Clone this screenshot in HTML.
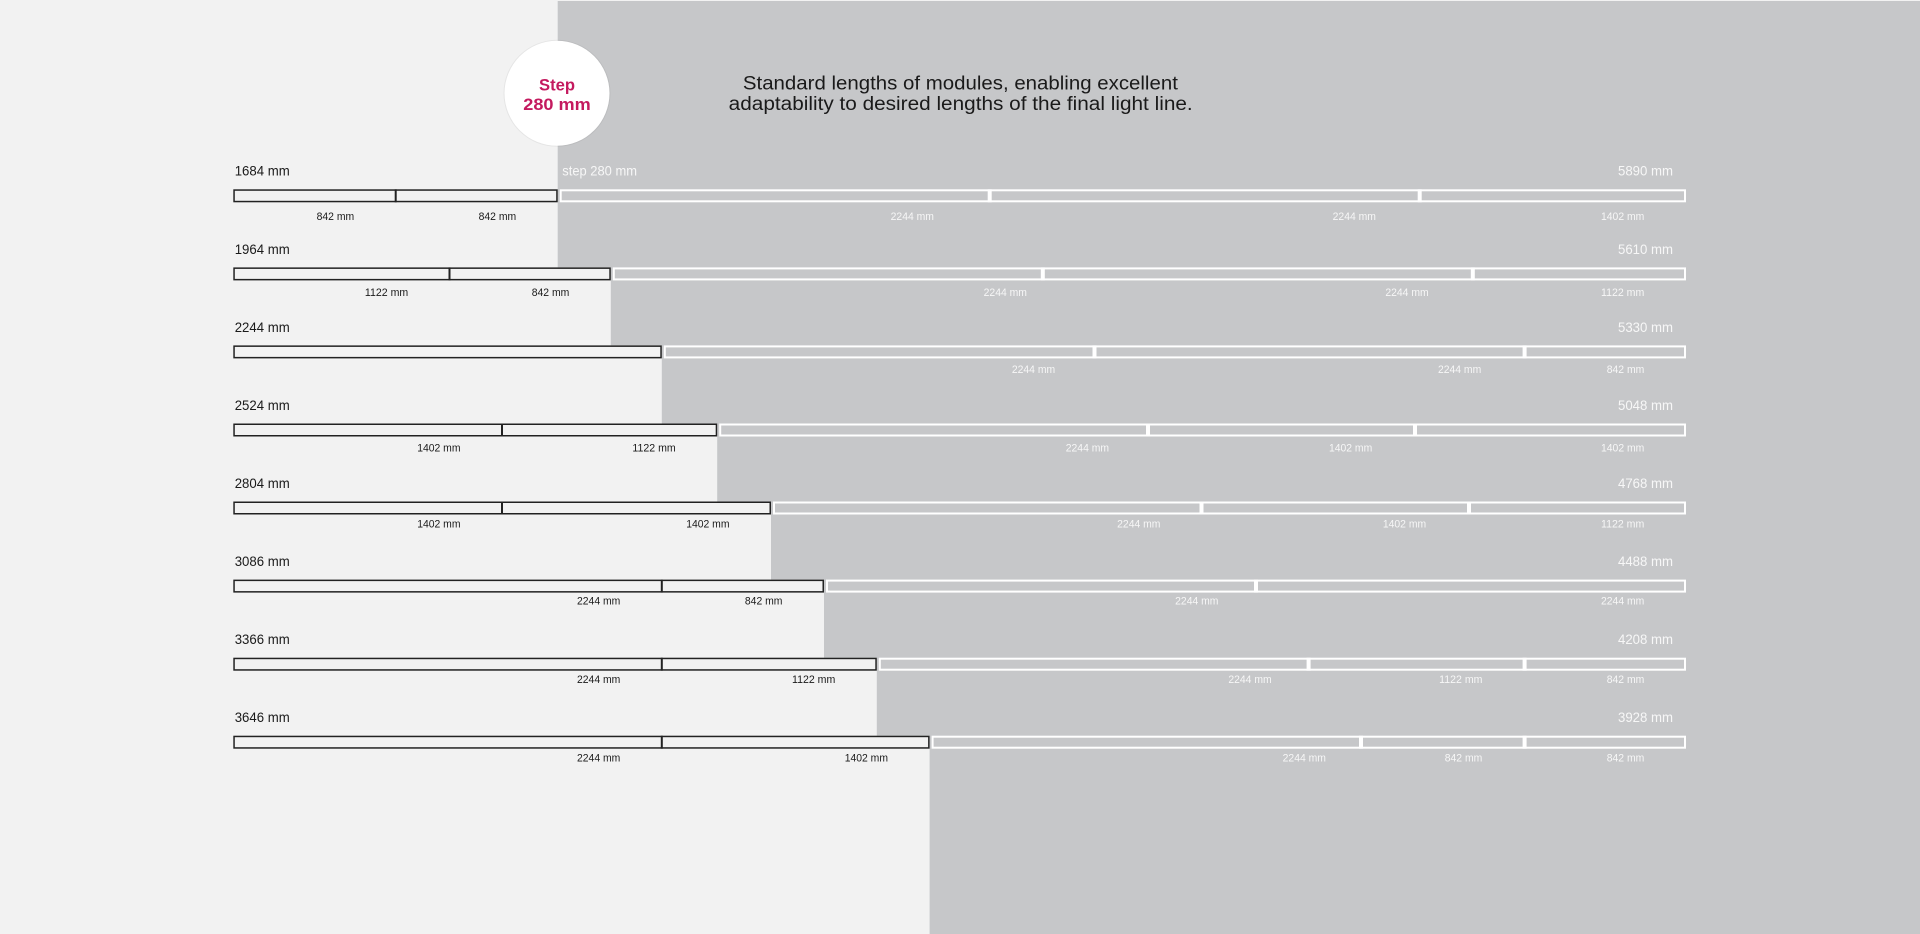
<!DOCTYPE html>
<html><head><meta charset="utf-8"><style>
html,body{margin:0;padding:0;background:#f2f2f2;}
svg{display:block;}
text{font-family:"Liberation Sans",sans-serif;}
.tl{font-size:14px;fill:#1a1a1a;}
.tr{font-size:14px;fill:#f7f7f7;}
.sd{font-size:11px;fill:#1a1a1a;}
.sw{font-size:11px;fill:#f7f7f7;}
</style></head><body>
<svg width="1920" height="934" viewBox="0 0 1920 934" xmlns="http://www.w3.org/2000/svg">
<rect x="0" y="0" width="1920" height="934" fill="#f2f2f2"/>
<!-- gray staircase -->
<path d="M557.7,1 L1920,1 L1920,934 L929.6,934 L929.6,735.7 L876.8,735.7 L876.8,657.7 L824,657.7 L824,579.6 L771,579.6 L771,501.5 L717.2,501.5 L717.2,423.5 L661.8,423.5 L661.8,345.4 L610.8,345.4 L610.8,267.4 L557.7,267.4 Z" fill="#c6c7c9"/>

<!-- circle -->
<circle cx="557" cy="93.3" r="53.5" fill="#000" opacity="0.05"/>
<circle cx="557" cy="93.3" r="52.5" fill="#ffffff"/>
<text x="557" y="90.7" text-anchor="middle" font-size="16.5" font-weight="bold" fill="#c41a5f" textLength="36" lengthAdjust="spacingAndGlyphs">Step</text>
<text x="557" y="110" text-anchor="middle" font-size="16.5" font-weight="bold" fill="#c41a5f" textLength="67.5" lengthAdjust="spacingAndGlyphs">280 mm</text>

<!-- title -->
<text x="960.4" y="89.3" text-anchor="middle" font-size="19" fill="#1a1a1a" textLength="435" lengthAdjust="spacingAndGlyphs">Standard lengths of modules, enabling excellent</text>
<text x="960.7" y="110" text-anchor="middle" font-size="19" fill="#1a1a1a" textLength="464" lengthAdjust="spacingAndGlyphs">adaptability to desired lengths of the final light line.</text>

<text class="tr" x="562.3" y="175.7" textLength="74.7" lengthAdjust="spacingAndGlyphs">step 280 mm</text>

<!-- ROW 1 -->
<g>
<text class="tl" x="234.7" y="175.7" textLength="55" lengthAdjust="spacingAndGlyphs">1684 mm</text>
<text class="tr" x="1673" y="175.7" text-anchor="end" textLength="55" lengthAdjust="spacingAndGlyphs">5890 mm</text>
<rect x="234.05" y="190.05" width="322.9" height="11.5" fill="#f2f2f2" stroke="#222" stroke-width="1.5"/>
<line x1="395.7" y1="189.3" x2="395.7" y2="202.3" stroke="#222" stroke-width="2"/>
<rect x="560.7" y="190.3" width="1124.3" height="11" fill="none" stroke="#fff" stroke-width="2"/>
<rect x="987.7" y="189.3" width="4" height="13" fill="#fff"/>
<rect x="1417.7" y="189.3" width="4" height="13" fill="#fff"/>
<text class="sd" x="354.2" y="220" text-anchor="end" textLength="37.6" lengthAdjust="spacingAndGlyphs">842 mm</text>
<text class="sd" x="516.2" y="220" text-anchor="end" textLength="37.6" lengthAdjust="spacingAndGlyphs">842 mm</text>
<text class="sw" x="912.3" y="220" text-anchor="middle" textLength="43.3" lengthAdjust="spacingAndGlyphs">2244 mm</text>
<text class="sw" x="1354.3" y="220" text-anchor="middle" textLength="43.3" lengthAdjust="spacingAndGlyphs">2244 mm</text>
<text class="sw" x="1644.3" y="220" text-anchor="end" textLength="43.3" lengthAdjust="spacingAndGlyphs">1402 mm</text>
</g>

<!-- ROW 2 -->
<g>
<text class="tl" x="234.7" y="253.8" textLength="55" lengthAdjust="spacingAndGlyphs">1964 mm</text>
<text class="tr" x="1673" y="253.8" text-anchor="end" textLength="55" lengthAdjust="spacingAndGlyphs">5610 mm</text>
<rect x="234.05" y="268.15" width="376" height="11.5" fill="#f2f2f2" stroke="#222" stroke-width="1.5"/>
<line x1="449.5" y1="267.4" x2="449.5" y2="280.4" stroke="#222" stroke-width="2"/>
<rect x="613.8" y="268.4" width="1071.2" height="11" fill="none" stroke="#fff" stroke-width="2"/>
<rect x="1040.8" y="267.4" width="4" height="13" fill="#fff"/>
<rect x="1470.8" y="267.4" width="4" height="13" fill="#fff"/>
<text class="sd" x="408.2" y="296" text-anchor="end" textLength="43.3" lengthAdjust="spacingAndGlyphs">1122 mm</text>
<text class="sd" x="569.3" y="296" text-anchor="end" textLength="37.6" lengthAdjust="spacingAndGlyphs">842 mm</text>
<text class="sw" x="1005.3" y="296" text-anchor="middle" textLength="43.3" lengthAdjust="spacingAndGlyphs">2244 mm</text>
<text class="sw" x="1407" y="296" text-anchor="middle" textLength="43.3" lengthAdjust="spacingAndGlyphs">2244 mm</text>
<text class="sw" x="1644.3" y="296" text-anchor="end" textLength="43.3" lengthAdjust="spacingAndGlyphs">1122 mm</text>
</g>

<!-- ROW 3 -->
<g>
<text class="tl" x="234.7" y="331.8" textLength="55" lengthAdjust="spacingAndGlyphs">2244 mm</text>
<text class="tr" x="1673" y="331.8" text-anchor="end" textLength="55" lengthAdjust="spacingAndGlyphs">5330 mm</text>
<rect x="234.05" y="346.15" width="427" height="11.5" fill="#f2f2f2" stroke="#222" stroke-width="1.5"/>
<rect x="664.8" y="346.4" width="1020.2" height="11" fill="none" stroke="#fff" stroke-width="2"/>
<rect x="1092.5" y="345.4" width="4" height="13" fill="#fff"/>
<rect x="1522.6" y="345.4" width="4" height="13" fill="#fff"/>
<text class="sw" x="1033.5" y="373.2" text-anchor="middle" textLength="43.3" lengthAdjust="spacingAndGlyphs">2244 mm</text>
<text class="sw" x="1459.6" y="373.2" text-anchor="middle" textLength="43.3" lengthAdjust="spacingAndGlyphs">2244 mm</text>
<text class="sw" x="1644.3" y="373.2" text-anchor="end" textLength="37.6" lengthAdjust="spacingAndGlyphs">842 mm</text>
</g>

<!-- ROW 4 -->
<g>
<text class="tl" x="234.7" y="409.9" textLength="55" lengthAdjust="spacingAndGlyphs">2524 mm</text>
<text class="tr" x="1673" y="409.9" text-anchor="end" textLength="55" lengthAdjust="spacingAndGlyphs">5048 mm</text>
<rect x="234.05" y="424.25" width="482.4" height="11.5" fill="#f2f2f2" stroke="#222" stroke-width="1.5"/>
<line x1="502" y1="423.5" x2="502" y2="436.5" stroke="#222" stroke-width="2"/>
<rect x="720.2" y="424.5" width="964.8" height="11" fill="none" stroke="#fff" stroke-width="2"/>
<rect x="1146" y="423.5" width="4" height="13" fill="#fff"/>
<rect x="1413" y="423.5" width="4" height="13" fill="#fff"/>
<text class="sd" x="460.5" y="451.6" text-anchor="end" textLength="43.3" lengthAdjust="spacingAndGlyphs">1402 mm</text>
<text class="sd" x="675.7" y="451.6" text-anchor="end" textLength="43.3" lengthAdjust="spacingAndGlyphs">1122 mm</text>
<text class="sw" x="1087.4" y="451.6" text-anchor="middle" textLength="43.3" lengthAdjust="spacingAndGlyphs">2244 mm</text>
<text class="sw" x="1350.6" y="451.6" text-anchor="middle" textLength="43.3" lengthAdjust="spacingAndGlyphs">1402 mm</text>
<text class="sw" x="1644.3" y="451.6" text-anchor="end" textLength="43.3" lengthAdjust="spacingAndGlyphs">1402 mm</text>
</g>

<!-- ROW 5 -->
<g>
<text class="tl" x="234.7" y="487.9" textLength="55" lengthAdjust="spacingAndGlyphs">2804 mm</text>
<text class="tr" x="1673" y="487.9" text-anchor="end" textLength="55" lengthAdjust="spacingAndGlyphs">4768 mm</text>
<rect x="234.05" y="502.25" width="536.2" height="11.5" fill="#f2f2f2" stroke="#222" stroke-width="1.5"/>
<line x1="502" y1="501.5" x2="502" y2="514.5" stroke="#222" stroke-width="2"/>
<rect x="774" y="502.5" width="911" height="11" fill="none" stroke="#fff" stroke-width="2"/>
<rect x="1199.5" y="501.5" width="4" height="13" fill="#fff"/>
<rect x="1467" y="501.5" width="4" height="13" fill="#fff"/>
<text class="sd" x="460.5" y="527.5" text-anchor="end" textLength="43.3" lengthAdjust="spacingAndGlyphs">1402 mm</text>
<text class="sd" x="729.5" y="527.5" text-anchor="end" textLength="43.3" lengthAdjust="spacingAndGlyphs">1402 mm</text>
<text class="sw" x="1138.8" y="527.5" text-anchor="middle" textLength="43.3" lengthAdjust="spacingAndGlyphs">2244 mm</text>
<text class="sw" x="1404.5" y="527.5" text-anchor="middle" textLength="43.3" lengthAdjust="spacingAndGlyphs">1402 mm</text>
<text class="sw" x="1644.3" y="527.5" text-anchor="end" textLength="43.3" lengthAdjust="spacingAndGlyphs">1122 mm</text>
</g>

<!-- ROW 6 -->
<g>
<text class="tl" x="234.7" y="566" textLength="55" lengthAdjust="spacingAndGlyphs">3086 mm</text>
<text class="tr" x="1673" y="566" text-anchor="end" textLength="55" lengthAdjust="spacingAndGlyphs">4488 mm</text>
<rect x="234.05" y="580.35" width="589.2" height="11.5" fill="#f2f2f2" stroke="#222" stroke-width="1.5"/>
<line x1="661.8" y1="579.6" x2="661.8" y2="592.6" stroke="#222" stroke-width="2"/>
<rect x="827" y="580.6" width="858" height="11" fill="none" stroke="#fff" stroke-width="2"/>
<rect x="1254" y="579.6" width="4" height="13" fill="#fff"/>
<text class="sd" x="620.3" y="604.5" text-anchor="end" textLength="43.3" lengthAdjust="spacingAndGlyphs">2244 mm</text>
<text class="sd" x="782.5" y="604.5" text-anchor="end" textLength="37.6" lengthAdjust="spacingAndGlyphs">842 mm</text>
<text class="sw" x="1196.8" y="604.5" text-anchor="middle" textLength="43.3" lengthAdjust="spacingAndGlyphs">2244 mm</text>
<text class="sw" x="1644.3" y="604.5" text-anchor="end" textLength="43.3" lengthAdjust="spacingAndGlyphs">2244 mm</text>
</g>

<!-- ROW 7 -->
<g>
<text class="tl" x="234.7" y="644" textLength="55" lengthAdjust="spacingAndGlyphs">3366 mm</text>
<text class="tr" x="1673" y="644" text-anchor="end" textLength="55" lengthAdjust="spacingAndGlyphs">4208 mm</text>
<rect x="234.05" y="658.45" width="642" height="11.5" fill="#f2f2f2" stroke="#222" stroke-width="1.5"/>
<line x1="661.8" y1="657.7" x2="661.8" y2="670.7" stroke="#222" stroke-width="2"/>
<rect x="879.8" y="658.7" width="805.2" height="11" fill="none" stroke="#fff" stroke-width="2"/>
<rect x="1306.6" y="657.7" width="4" height="13" fill="#fff"/>
<rect x="1522.6" y="657.7" width="4" height="13" fill="#fff"/>
<text class="sd" x="620.3" y="683" text-anchor="end" textLength="43.3" lengthAdjust="spacingAndGlyphs">2244 mm</text>
<text class="sd" x="835.3" y="683" text-anchor="end" textLength="43.3" lengthAdjust="spacingAndGlyphs">1122 mm</text>
<text class="sw" x="1250" y="683" text-anchor="middle" textLength="43.3" lengthAdjust="spacingAndGlyphs">2244 mm</text>
<text class="sw" x="1460.8" y="683" text-anchor="middle" textLength="43.3" lengthAdjust="spacingAndGlyphs">1122 mm</text>
<text class="sw" x="1644.3" y="683" text-anchor="end" textLength="37.6" lengthAdjust="spacingAndGlyphs">842 mm</text>
</g>

<!-- ROW 8 -->
<g>
<text class="tl" x="234.7" y="722.1" textLength="55" lengthAdjust="spacingAndGlyphs">3646 mm</text>
<text class="tr" x="1673" y="722.1" text-anchor="end" textLength="55" lengthAdjust="spacingAndGlyphs">3928 mm</text>
<rect x="234.05" y="736.45" width="694.8" height="11.5" fill="#f2f2f2" stroke="#222" stroke-width="1.5"/>
<line x1="661.8" y1="735.7" x2="661.8" y2="748.7" stroke="#222" stroke-width="2"/>
<rect x="932.6" y="736.7" width="752.4" height="11" fill="none" stroke="#fff" stroke-width="2"/>
<rect x="1359" y="735.7" width="4" height="13" fill="#fff"/>
<rect x="1522.6" y="735.7" width="4" height="13" fill="#fff"/>
<text class="sd" x="620.3" y="761.5" text-anchor="end" textLength="43.3" lengthAdjust="spacingAndGlyphs">2244 mm</text>
<text class="sd" x="888" y="761.5" text-anchor="end" textLength="43.3" lengthAdjust="spacingAndGlyphs">1402 mm</text>
<text class="sw" x="1304.3" y="761.5" text-anchor="middle" textLength="43.3" lengthAdjust="spacingAndGlyphs">2244 mm</text>
<text class="sw" x="1463.5" y="761.5" text-anchor="middle" textLength="37.6" lengthAdjust="spacingAndGlyphs">842 mm</text>
<text class="sw" x="1644.3" y="761.5" text-anchor="end" textLength="37.6" lengthAdjust="spacingAndGlyphs">842 mm</text>
</g>
</svg>
</body></html>
